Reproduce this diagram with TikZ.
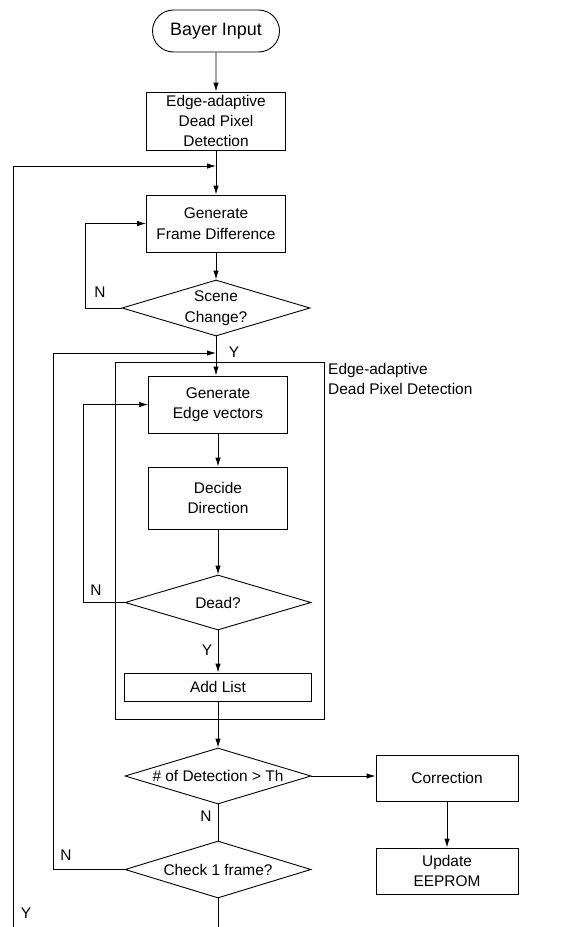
\documentclass[tikz,border=0pt]{standalone}
\usepackage{fontspec}
\setmainfont{Liberation Sans}
\usetikzlibrary{shapes.geometric,shapes.misc,arrows.meta}
\tikzset{
  base/.style={font=\fontsize{15.5}{20.5}\selectfont, align=center, inner sep=0pt},
  box/.style={base, draw, line width=0.9bp},
  dec/.style={base, draw, line width=0.9bp, diamond, aspect=3.3},
  arr/.style={-{Latex[length=9bp,width=5.5bp]}, line width=0.9bp},
  ln/.style={line width=0.9bp},
  lbl/.style={font=\fontsize{15.5}{18}\selectfont, inner sep=0pt}
}
\begin{document}
\begin{tikzpicture}[x=1bp,y=-1bp]
\useasboundingbox (0,0) rectangle (571,927);
% nodes
\node[box, rounded rectangle, minimum width=127bp, minimum height=42bp, font=\fontsize{18}{20}\selectfont] (bayer) at (216,31) {Bayer Input};
\node[box, minimum width=139bp, minimum height=58bp] (eadp) at (216,121) {Edge-adaptive\\Dead Pixel\\Detection};
\node[box, minimum width=139bp, minimum height=57bp] (gfd) at (216,223.5) {Generate\\Frame Difference};
\node[dec, minimum width=188bp, minimum height=56bp] (scene) at (216,308) {Scene\\Change?};
% container
\node[draw, line width=0.9bp, minimum width=209bp, minimum height=357bp, inner sep=0pt] (cont) at (219.5,540.5) {};
\node[lbl, align=left, anchor=west, font=\fontsize{15.5}{20.5}\selectfont] (contlbl) at (328,379) {Edge-adaptive\\Dead Pixel Detection};
\node[box, minimum width=139bp, minimum height=57bp] (gev) at (218,404.5) {Generate\\Edge vectors};
\node[box, minimum width=139bp, minimum height=62bp] (dd) at (218,498) {Decide\\Direction};
\node[dec, minimum width=186bp, minimum height=55bp] (dead) at (218,602.5) {Dead?};
\node[box, minimum width=187bp, minimum height=28bp] (add) at (218,687) {Add List};
\node[dec, minimum width=186bp, minimum height=56bp] (det) at (218,776) {\# of Detection > Th};
\node[box, minimum width=142bp, minimum height=46bp] (corr) at (447,778) {Correction};
\node[box, minimum width=142bp, minimum height=46bp] (eeprom) at (447,871) {Update\\EEPROM};
\node[dec, minimum width=186bp, minimum height=57bp] (check) at (218,869.5) {Check 1 frame?};
% coordinates
\coordinate (j1) at (216,166);
\coordinate (j2) at (216,353);
\coordinate (bot1) at (218,927);
\coordinate (bot2) at (13,927);
% connectors
\draw[arr] (bayer) -- (eadp);
\draw[arr] (eadp) -- (gfd);
\draw[arr] (gfd) -- (scene);
\draw[arr] (scene.south) -- (scene.south |- gev.north);
\draw[arr] (scene.west) -- ++(-36,0) |- (gfd.west);
\draw[arr] (bot2) |- (j1);
\draw[arr] (gev) -- (dd);
\draw[arr] (dd) -- (dead);
\draw[arr] (dead.west) -- ++(-41,0) |- (gev.west);
\draw[arr] (dead) -- (add);
\draw[arr] (add) -- (det);
\draw[arr] (det.east) -- (det.east -| corr.west);
\draw[arr] (corr) -- (eeprom);
\draw[ln] (det) -- (check);
\draw[ln] (check.south) -- (bot1);
\draw[arr] (check.west) -- ++(-71,0) |- (j2);
% labels
\node[lbl] (n1) at (100,292) {N};
\node[lbl] (y1) at (234,352) {Y};
\node[lbl] (n2) at (96,590) {N};
\node[lbl] (y2) at (207,650) {Y};
\node[lbl] (n3) at (206,816) {N};
\node[lbl] (n4) at (66,855) {N};
\node[lbl] (y3) at (26,913) {Y};
\end{tikzpicture}
\end{document}
